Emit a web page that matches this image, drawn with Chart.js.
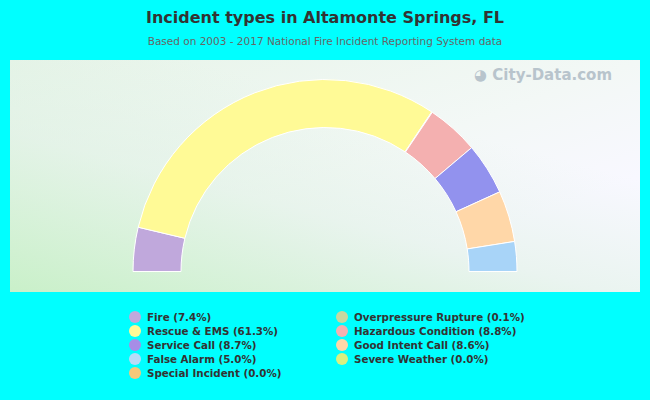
<!DOCTYPE html>
<html><head><meta charset="utf-8">
<script src="https://cdn.jsdelivr.net/npm/chart.js@4"></script>
<style>
body{margin:0;width:650px;height:400px;background:#00FFFF;font-family:"DejaVu Sans",Arial,sans-serif;position:relative;overflow:hidden}
#t{position:absolute;top:8px;width:650px;text-align:center;font-weight:bold;font-size:16px;color:#333}
#s{position:absolute;top:35px;width:650px;text-align:center;font-size:10.5px;color:#666}
#p{position:absolute;left:10px;top:60px;width:630px;height:232px;background:linear-gradient(160deg,#e6f4e8 0%,#f3f8f6 50%,#f8f8ff 75%) ,#eef;}
#p2{position:absolute;left:10px;top:60px;width:630px;height:232px;background:linear-gradient(15deg,#c9f0c9 0%,rgba(220,240,225,0.5) 40%,rgba(255,255,255,0) 70%)}
#c{position:absolute;left:10px;top:60px}
#wm{position:absolute;left:474px;top:66px;font-size:15px;font-weight:bold;color:#b8c4cc}
.li{position:absolute;font-size:10.3px;font-weight:bold;color:#333;white-space:nowrap}
.d{display:inline-block;width:12px;height:12px;border-radius:50%;vertical-align:-2px;margin-right:6px}
</style></head><body>
<div id="t">Incident types in Altamonte Springs, FL</div>
<div id="s">Based on 2003 - 2017 National Fire Incident Reporting System data</div>
<div id="p"></div><div id="p2"></div>
<div id="wm">&#9685; City-Data.com</div>
<canvas id="c" width="630" height="232"></canvas>
<div id="leg"></div>
<script>
const legendLabels=["Fire (7.4%)","Rescue & EMS (61.3%)","Service Call (8.7%)","False Alarm (5.0%)","Special Incident (0.0%)","Overpressure Rupture (0.1%)","Hazardous Condition (8.8%)","Good Intent Call (8.6%)","Severe Weather (0.0%)"];
const legendColors=["#c0a8dc","#fffa96","#a78de6","#b8dcf8","#f5c87a","#c8d8a0","#f4b0b0","#ffd7a8","#d8f080"];
const categories=["Fire","Rescue & EMS","Overpressure Rupture","Hazardous Condition","Service Call","Good Intent Call","Special Incident","Severe Weather","False Alarm"];
const values=[7.4,61.3,0.1,8.8,8.7,8.6,0.0,0.0,5.0];
const sliceColors=["#c0a8dc","#fffa96","#c8d8a0","#f4b0b0","#9292ee","#ffd7a8","#f5c87a","#d8f080","#a8d4f8"];
const leg=document.getElementById('leg');
legendLabels.forEach((l,i)=>{const col=i<5?0:1,row=i<5?i:i-5;const e=document.createElement('div');e.className='li';e.style.left=(col?336:129)+'px';e.style.top=(311+row*14)+'px';e.innerHTML='<span class="d" style="background:'+legendColors[i]+'"></span>'+l.replace('&','&amp;');leg.appendChild(e);});
new Chart(document.getElementById('c'),{type:'doughnut',data:{labels:categories,datasets:[{data:values,backgroundColor:sliceColors,borderColor:'#fff',borderWidth:1}]},
options:{responsive:false,animation:false,rotation:-90,circumference:180,cutout:'75%',layout:{padding:{top:19,bottom:20}},plugins:{legend:{display:false},tooltip:{enabled:false}}}});
</script>
</body></html>
